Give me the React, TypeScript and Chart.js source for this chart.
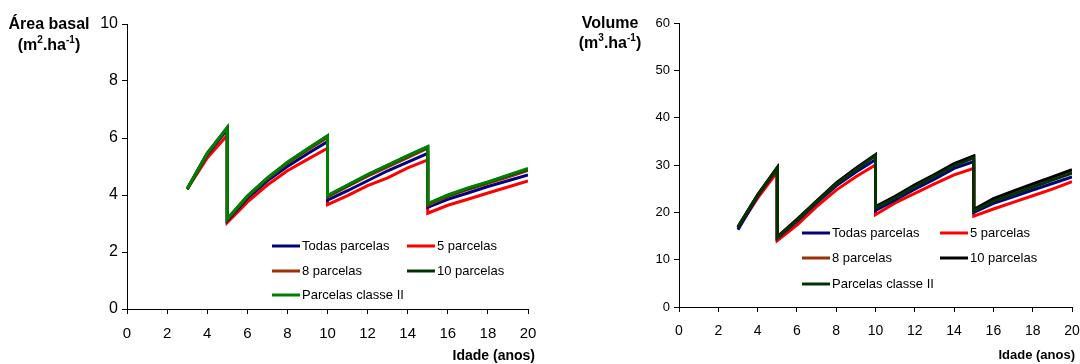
import React, { useEffect, useRef } from "react";
import { Chart, registerables } from "chart.js";

Chart.register(...registerables);

// Stand age in years; the repeated ages mark the thinnings at 5, 10 and 15 years.
const ages = [3, 4, 5, 5, 6, 7, 8, 9, 10, 10, 11, 12, 13, 14, 15, 15, 16, 17, 18, 19, 20];

const seriesNames = ["Todas parcelas", "5 parcelas", "8 parcelas", "10 parcelas", "Parcelas classe II"];

// Basal area (m².ha⁻¹)
const basalTodas = [4.2, 5.42, 6.3, 3.1, 3.88, 4.5, 5.0, 5.45, 5.87, 3.82, 4.15, 4.5, 4.85, 5.15, 5.46, 3.57, 3.85, 4.07, 4.3, 4.5, 4.7];
const basal5 = [4.2, 5.3, 6.1, 3.03, 3.75, 4.35, 4.85, 5.25, 5.64, 3.66, 3.98, 4.33, 4.6, 4.95, 5.23, 3.36, 3.64, 3.85, 4.07, 4.28, 4.49];
const basal8 = [4.21, 5.45, 6.34, 3.14, 3.93, 4.57, 5.11, 5.57, 6.02, 3.93, 4.3, 4.66, 4.99, 5.31, 5.64, 3.64, 3.95, 4.19, 4.41, 4.63, 4.86];
const basal10 = [4.21, 5.46, 6.36, 3.16, 3.95, 4.59, 5.14, 5.61, 6.07, 3.97, 4.34, 4.71, 5.04, 5.37, 5.69, 3.69, 3.99, 4.23, 4.45, 4.68, 4.91];
const basalClasse2 = [4.21, 5.46, 6.37, 3.16, 3.96, 4.6, 5.15, 5.62, 6.08, 3.98, 4.35, 4.72, 5.05, 5.38, 5.7, 3.7, 4.0, 4.25, 4.46, 4.7, 4.93];

// Volume (m³.ha⁻¹)
const volTodas = [16.3, 23.4, 29.2, 14.5, 18.1, 22.0, 25.6, 28.5, 31.1, 20.4, 22.6, 24.9, 27.0, 29.3, 30.7, 20.0, 21.9, 23.3, 24.7, 26.1, 27.5];
const vol5 = [16.6, 23.0, 28.5, 14.0, 17.3, 21.2, 24.7, 27.5, 30.0, 19.5, 22.0, 24.0, 26.0, 27.9, 29.3, 19.2, 20.7, 22.1, 23.5, 24.9, 26.5];
const vol8 = [16.9, 23.6, 29.3, 14.6, 18.3, 22.3, 26.0, 29.2, 32.0, 21.0, 23.2, 25.6, 27.8, 30.2, 31.8, 20.4, 22.5, 24.1, 25.6, 27.1, 28.5];
const vol10 = [16.9, 23.7, 29.5, 14.8, 18.5, 22.4, 26.2, 29.3, 32.2, 21.2, 23.4, 25.8, 28.0, 30.3, 31.9, 20.6, 22.9, 24.5, 26.0, 27.5, 29.0];
const volClasse2 = [16.9, 23.6, 29.4, 14.7, 18.3, 22.2, 26.0, 29.0, 32.0, 20.9, 23.0, 25.4, 27.6, 29.8, 31.5, 20.3, 22.3, 23.8, 25.3, 26.8, 28.3];

const basalColors = ["#000080", "#ff0000", "#993300", "#003300", "#008000"];
const volumeColors = ["#000080", "#ff0000", "#993300", "#000000", "#003300"];

const FONT = "'Liberation Sans', Arial, Helvetica, sans-serif";

type Part = { t: string; sup?: boolean };

function drawParts(ctx: CanvasRenderingContext2D, parts: Part[], cx: number, y: number, size: number) {
  const supSize = Math.round(size * 0.62);
  const widths = parts.map((p) => {
    ctx.font = `bold ${p.sup ? supSize : size}px ${FONT}`;
    return ctx.measureText(p.t).width;
  });
  const total = widths.reduce((a, b) => a + b, 0);
  let x = cx - total / 2;
  ctx.textAlign = "left";
  ctx.textBaseline = "alphabetic";
  parts.forEach((p, i) => {
    ctx.font = `bold ${p.sup ? supSize : size}px ${FONT}`;
    ctx.fillText(p.t, x, p.sup ? y - size * 0.42 : y);
    x += widths[i];
  });
}

// Draws the axis titles and the in-plot legend.
const decorPlugin = {
  id: "decor",
  afterDraw(chart: any, _args: any, opts: any) {
    const ctx: CanvasRenderingContext2D = chart.ctx;
    ctx.save();
    ctx.fillStyle = "#000";
    // y title, two centred lines
    ctx.font = `bold ${opts.yTitleSize}px ${FONT}`;
    ctx.textAlign = "center";
    ctx.textBaseline = "alphabetic";
    ctx.fillText(opts.yTitle, opts.yTitleX, opts.yTitleY1);
    drawParts(ctx, opts.yUnit, opts.yTitleX, opts.yTitleY2, opts.yTitleSize);
    // x title, right aligned
    ctx.font = `bold ${opts.xTitleSize}px ${FONT}`;
    ctx.textAlign = "right";
    ctx.fillText(opts.xTitle, opts.xTitleX, opts.xTitleY);
    // legend
    ctx.font = `${opts.legendSize}px ${FONT}`;
    ctx.textAlign = "left";
    ctx.textBaseline = "middle";
    opts.slots.forEach((slot: number[], i: number) => {
      const ds = chart.data.datasets[i];
      const [x, y] = slot;
      ctx.strokeStyle = ds.borderColor;
      ctx.lineWidth = 3;
      ctx.beginPath();
      ctx.moveTo(x, y);
      ctx.lineTo(x + 28, y);
      ctx.stroke();
      ctx.fillStyle = "#000";
      ctx.fillText(ds.label, x + 30, y + 0.5);
    });
    ctx.restore();
  },
};

function buildDatasets(values: number[][], colors: string[]) {
  const drawOrder = [3, 4, 2, 1, 0];
  return values.map((vals, i) => ({
    label: seriesNames[i],
    data: ages.map((a, j) => ({ x: a, y: vals[j] })),
    borderColor: colors[i],
    backgroundColor: colors[i],
    borderWidth: 3,
    pointRadius: 0,
    tension: 0,
    fill: false,
    order: drawOrder[i],
  }));
}

type PanelProps = {
  values: number[][];
  colors: string[];
  yMax: number;
  yStep: number;
  yWidth: number;
  xHeight: number;
  padTop: number;
  padRight: number;
  yTickSize: number;
  xTickSize: number;
  xTickPad: number;
  decor: any;
};

function Panel(p: PanelProps) {
  const ref = useRef<HTMLCanvasElement>(null);
  useEffect(() => {
    const chart = new Chart(ref.current as HTMLCanvasElement, {
      type: "line",
      data: { datasets: buildDatasets(p.values, p.colors) as any },
      plugins: [decorPlugin],
      options: {
        animation: false,
        responsive: false,
        layout: { padding: { top: p.padTop, right: p.padRight, left: 0, bottom: 0 } },
        plugins: {
          legend: { display: false },
          tooltip: { enabled: false },
          decor: p.decor,
        } as any,
        scales: {
          x: {
            type: "linear",
            min: 0,
            max: 20,
            afterFit: (s: any) => {
              s.height = p.xHeight;
              s.paddingLeft = 0;
              s.paddingRight = 0;
            },
            ticks: {
              stepSize: 2,
              color: "#000",
              padding: p.xTickPad,
              maxRotation: 0,
              font: { family: FONT, size: p.xTickSize },
            },
            grid: { display: true, drawOnChartArea: false, drawTicks: true, tickLength: 5, color: "#000" },
            border: { display: true, color: "#000", width: 1 },
          },
          y: {
            type: "linear",
            min: 0,
            max: p.yMax,
            afterFit: (s: any) => {
              s.width = p.yWidth;
              s.paddingTop = 0;
              s.paddingBottom = 0;
            },
            ticks: {
              stepSize: p.yStep,
              color: "#000",
              padding: 4,
              font: { family: FONT, size: p.yTickSize },
            },
            grid: { display: true, drawOnChartArea: false, drawTicks: true, tickLength: 5, color: "#000" },
            border: { display: true, color: "#000", width: 1 },
          },
        },
      } as any,
    });
    return () => chart.destroy();
  }, []);
  return <canvas ref={ref} width={540} height={364} style={{ display: "block", width: 540, height: 364 }} />;
}

export default function App() {
  useEffect(() => {
    document.body.style.margin = "0";
    document.body.style.background = "#fff";
  }, []);
  return (
    <div style={{ display: "flex", width: 1080, height: 364, background: "#fff" }}>
      <Panel
        values={[basalTodas, basal5, basal8, basal10, basalClasse2]}
        colors={basalColors}
        yMax={10}
        yStep={2}
        yWidth={127}
        xHeight={55}
        padTop={24}
        padRight={12}
        yTickSize={16}
        xTickSize={15}
        xTickPad={11}
        decor={{
          yTitle: "Área basal",
          yUnit: [{ t: "(m" }, { t: "2", sup: true }, { t: ".ha" }, { t: "-1", sup: true }, { t: ")" }],
          yTitleX: 49,
          yTitleY1: 29,
          yTitleY2: 50,
          yTitleSize: 16,
          xTitle: "Idade (anos)",
          xTitleX: 535,
          xTitleY: 360,
          xTitleSize: 14,
          legendSize: 13,
          slots: [
            [272, 246],
            [407, 246],
            [272, 271],
            [407, 271],
            [272, 295],
          ],
        }}
      />
      <Panel
        values={[volTodas, vol5, vol8, vol10, volClasse2]}
        colors={volumeColors}
        yMax={60}
        yStep={10}
        yWidth={139}
        xHeight={57}
        padTop={23}
        padRight={8}
        yTickSize={13}
        xTickSize={14}
        xTickPad={11}
        decor={{
          yTitle: "Volume",
          yUnit: [{ t: "(m" }, { t: "3", sup: true }, { t: ".ha" }, { t: "-1", sup: true }, { t: ")" }],
          yTitleX: 70,
          yTitleY1: 28,
          yTitleY2: 48,
          yTitleSize: 16,
          xTitle: "Idade (anos)",
          xTitleX: 535,
          xTitleY: 359,
          xTitleSize: 13,
          legendSize: 13,
          slots: [
            [262, 233],
            [400, 233],
            [262, 258],
            [400, 258],
            [262, 284],
          ],
        }}
      />
    </div>
  );
}
